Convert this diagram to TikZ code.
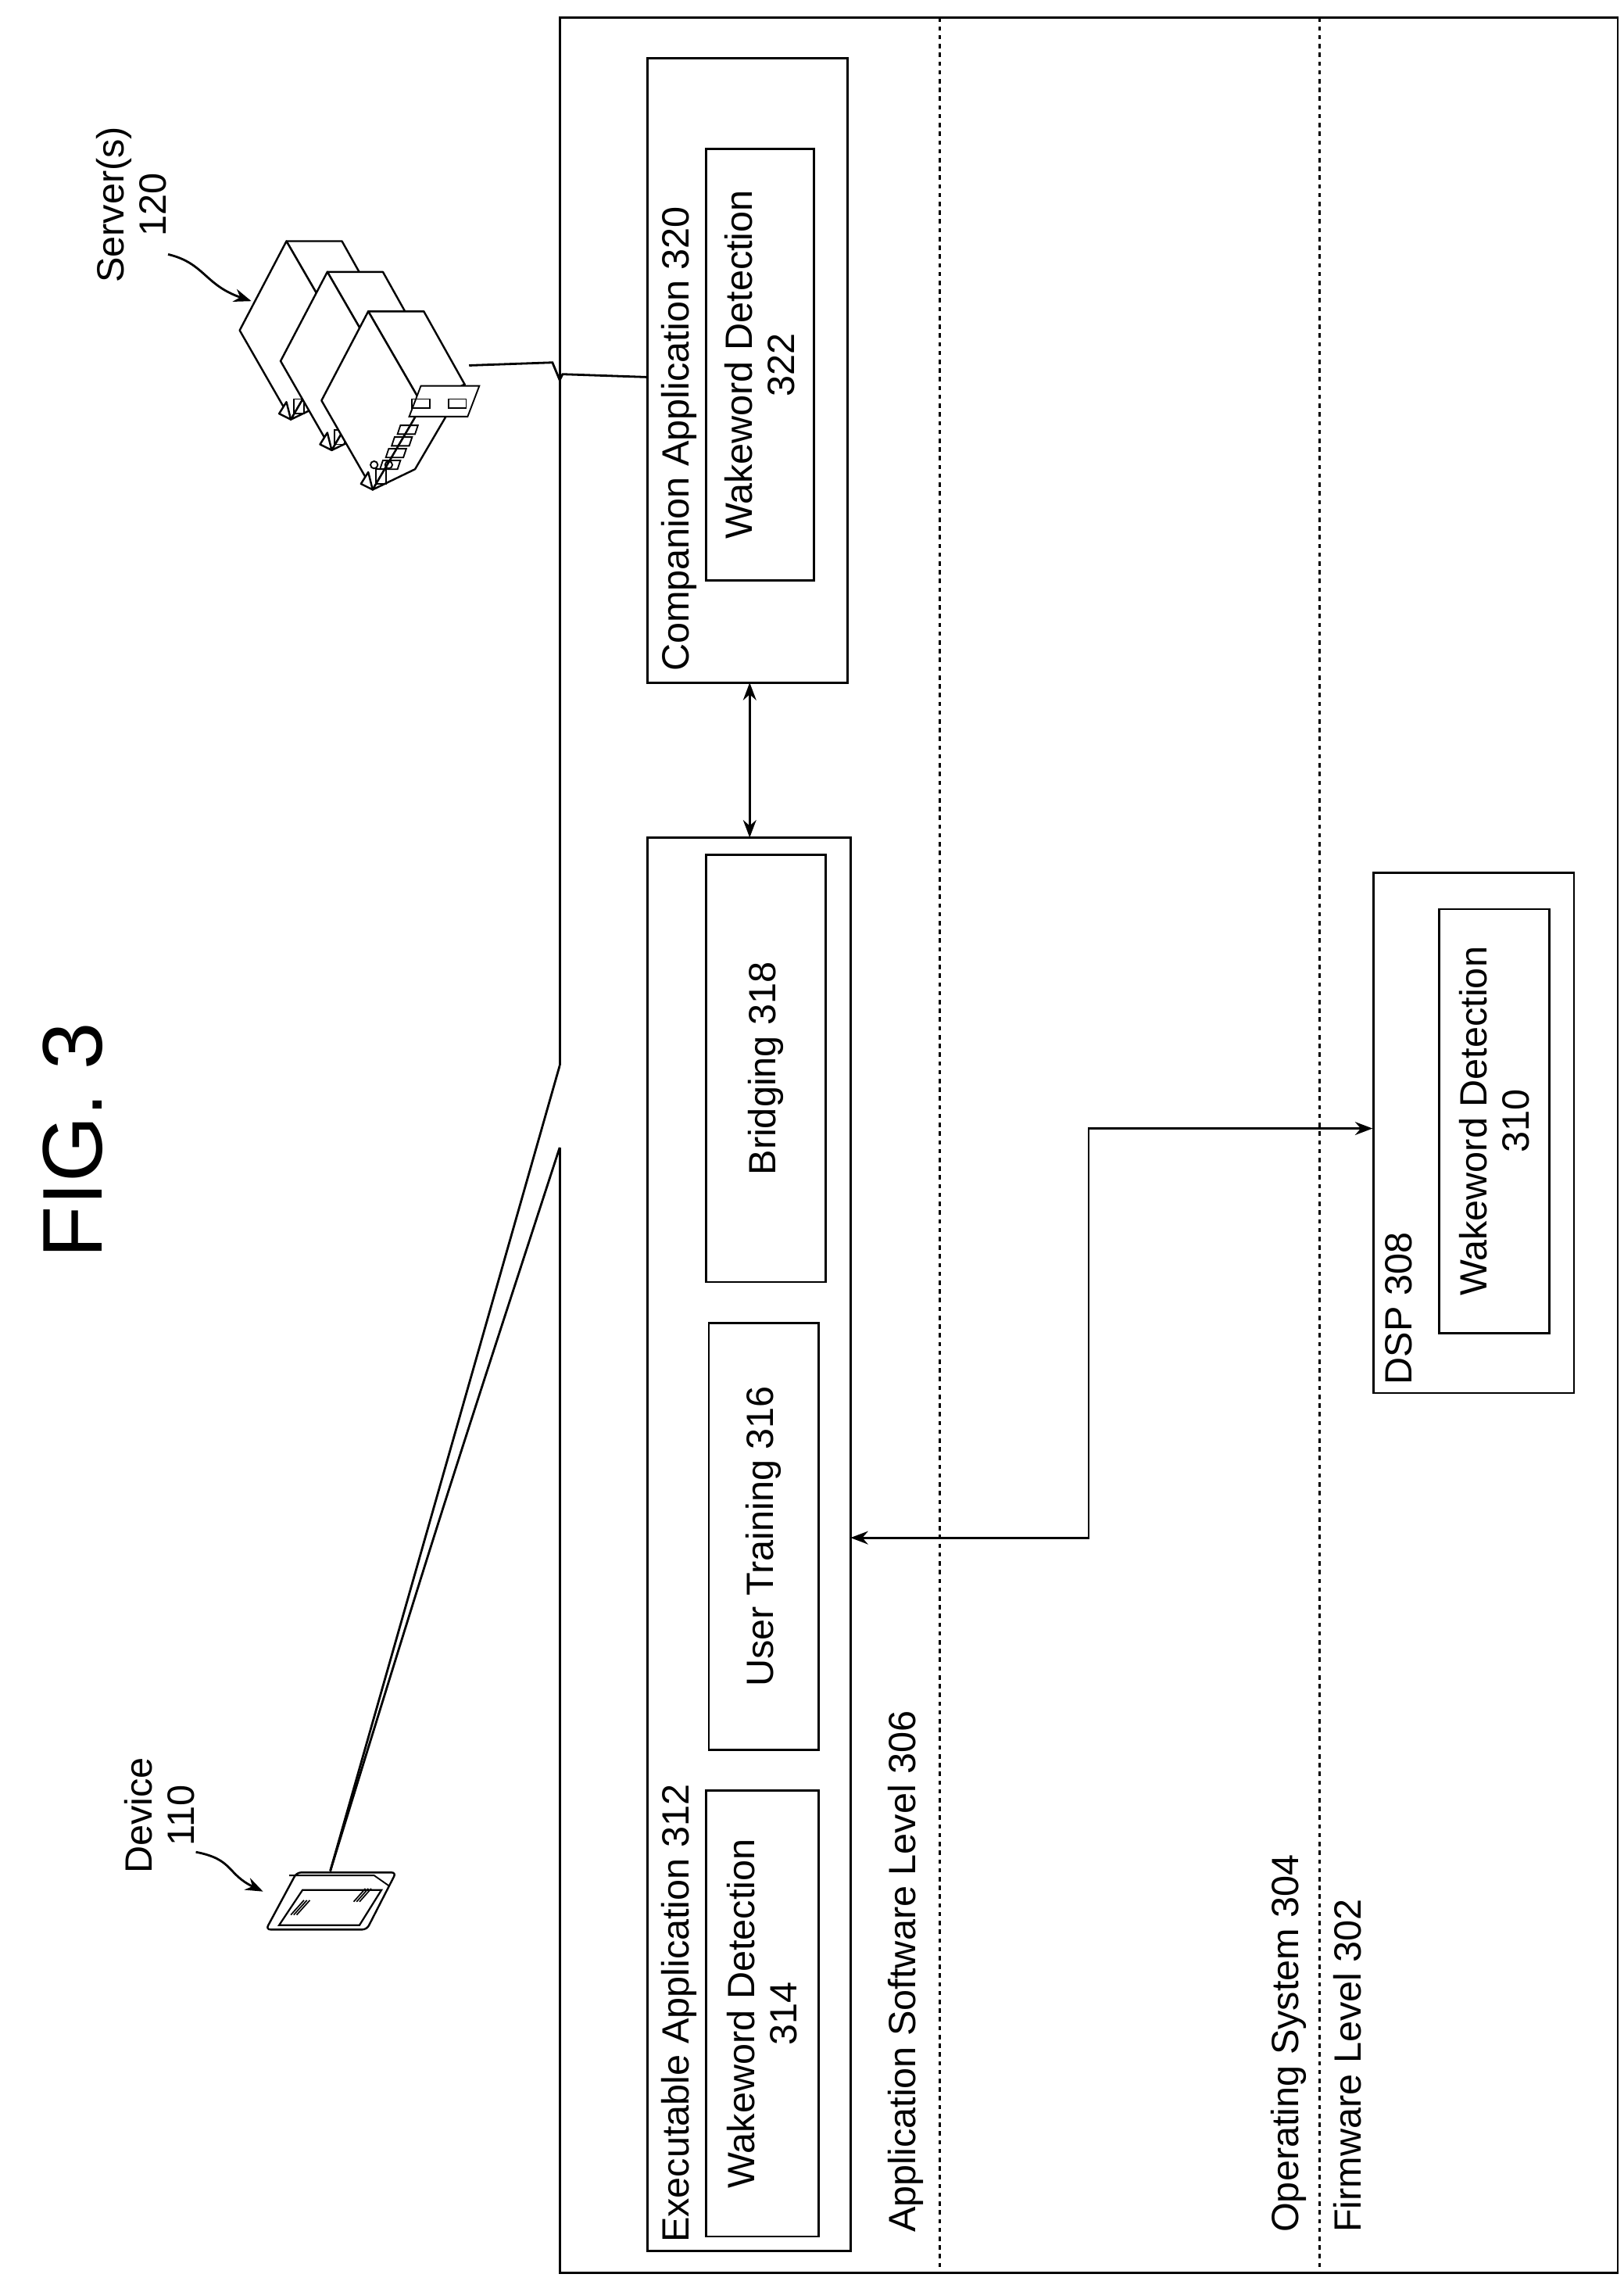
\documentclass[tikz,border=0pt]{standalone}
\usepackage{fontspec}
\setmainfont{Liberation Sans}
\usetikzlibrary{arrows.meta}
\begin{document}
\begin{tikzpicture}[x=1pt,y=-1pt,line width=1.5pt,
  box/.style={draw,inner sep=0},
  rl/.style={rotate=90,font=\fontsize{26}{29}\selectfont,inner sep=0},
  tl/.style={rl,align=center},
  arr/.style={{Stealth[length=12pt,width=9pt]}-{Stealth[length=12pt,width=9pt]}},
  srv/.style={fill=white,line width=1.3pt,line join=round}]
\useasboundingbox (0,0) rectangle (1111,1568);
% outer box with gap
\draw (383,729) -- (383,12) -- (1107,12) -- (1107,1555) -- (383,1555) -- (383,785);
\draw[dashed] (643,12) -- (643,1555);
\draw[dashed] (903,12) -- (903,1555);
\node[rl] at (50,780) {\fontsize{58}{60}\selectfont FIG. 3};
% companion
\draw (443,40) rectangle (580,467);
\coordinate (compB) at (513,467);
\node[rl,anchor=north west] at (452,460) {Companion Application 320};
\node[box,minimum width=74pt,minimum height=295pt] (w322) at (520,249.5) {};
\node[tl] at (w322.center) {Wakeword Detection\\322};
% executable
\draw (443,573) rectangle (582,1540);
\coordinate (exT) at (513,573);
\node[rl,anchor=north west] at (452,1535) {Executable Application 312};
\node[box,minimum width=77pt,minimum height=305pt] (w314) at (521.5,1377.5) {};
\node[tl] at (w314.center) {Wakeword Detection\\314};
\node[box,minimum width=75pt,minimum height=292pt] (ut) at (522.5,1051) {};
\node[tl] at (ut.center) {User Training 316};
\node[box,minimum width=82pt,minimum height=292pt] (br) at (524,731) {};
\node[tl] at (br.center) {Bridging 318};
\draw[arr] (compB) -- (exT);
% DSP
\node[box,minimum width=137pt,minimum height=356pt] (dsp) at (1008.5,775) {};
\node[rl,anchor=north west] at (947,948) {DSP 308};
\node[box,minimum width=75pt,minimum height=290pt] (w310) at (1022.5,767) {};
\node[tl] at (w310.center) {Wakeword Detection\\310};
\coordinate (exR) at (582,1052);
\draw[arr] (exR) -- (745,1052) -- (745,772) -- (dsp.west |- 0,772);
% level labels
\node[rl,anchor=west] at (620,1528) {Application Software Level 306};
\node[rl,anchor=west] at (882,1528) {Operating System 304};
\node[rl,anchor=west] at (922,1528) {Firmware Level 302};
% device
\draw[line width=1.3pt,rounded corners=3pt] (203,1281) -- (271,1281) -- (251,1320) -- (182,1320) -- cycle;
\draw[line width=1.2pt] (207,1293) -- (261,1293) -- (246,1317) -- (191,1317) -- cycle;
\draw[line width=1pt] (198,1283)--(256,1283)--(266,1290);
\foreach \d in {0,2,4}{\draw[line width=0.9pt] (199+\d,1310) -- (208+\d,1300); \draw[line width=0.9pt] (242+\d,1301) -- (250+\d,1292);}
\coordinate (dev) at (226,1280);
\draw (dev) -- (383,729);
\draw (dev) .. controls (300,1040) .. (383,785);
\node[tl] at (109,1242) {Device\\110};
\draw[-{Stealth[length=12pt,width=9pt]}] (134,1267) .. controls (160,1272) and (155,1282) .. (180,1294);
% servers
\foreach \ax/\ay [count=\i] in {196/165,224/186,252/213}{
 \begin{scope}[shift={(\ax,\ay)}]
  \draw[srv] (0,0) -- (38,0) -- (66,50) -- (37,64) -- cycle;
  \draw[srv] (0,0) -- (-32,61) -- (3,122) -- (37,64) -- cycle;
  \draw[srv] (37,64) -- (66,50) -- (32,108) -- (3,122) -- cycle;
  \draw[srv] (-5,118) -- (3,122) -- (0,110) -- cycle;
  \draw[line width=1pt] (5,108) rectangle (12,118);
 \end{scope}}
\begin{scope}[shift={(252,213)},line width=1pt]
  \draw[fill=white] (36,51) -- (76,51) -- (68,72) -- (28,72) -- cycle;
  \draw (30,60) rectangle (42,66); \draw (55,60) rectangle (67,66);
  \foreach \k in {0,1,2,3}{\draw (22-4*\k,78+8*\k) -- (34-4*\k,78+8*\k) -- (32-4*\k,84+8*\k) -- (20-4*\k,84+8*\k) -- cycle;}
  \draw (4,105) circle (2.5); \draw (14,105) circle (2.5);
\end{scope}
\coordinate (srvR) at (321,250);
\draw (srvR) -- (378,248) -- (383,260) -- (385,256) -- (443,258);
\node[tl] at (90,140) {Server(s)\\120};
\draw[-{Stealth[length=12pt,width=9pt]}] (115,174) .. controls (140,180) and (140,195) .. (172,206);
\end{tikzpicture}
\end{document}
